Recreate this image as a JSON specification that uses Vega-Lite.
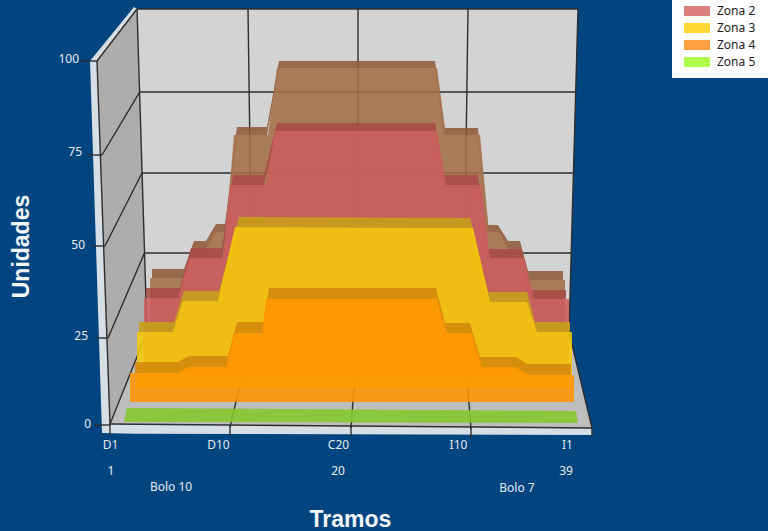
{"$schema":"https://vega.github.io/schema/vega-lite/v6.json","width":768,"height":531,"autosize":"none","padding":0,"background":"#00457F","config":{"view":{"stroke":null},"font":"Noto Sans"},
"datasets":{
"walls":[
{"capa":"leyenda","tramo":45.96,"unidades":116.76,"base":95.33},{"capa":"leyenda","tramo":53.64,"unidades":116.76,"base":95.33},
{"capa":"borde","tramo":-0.6,"unidades":100,"base":100},{"capa":"borde","tramo":0.36,"unidades":104.04,"base":-2.2},{"capa":"borde","tramo":2.92,"unidades":114.84,"base":-2.39},{"capa":"borde","tramo":3.16,"unidades":114.29,"base":-2.39},{"capa":"borde","tramo":39.56,"unidades":-0.82,"base":-2.75},
{"capa":"fondo","tramo":3.16,"unidades":114.29,"base":114.29},{"capa":"fondo","tramo":3.96,"unidades":114.29,"base":25.55},{"capa":"fondo","tramo":37.72,"unidades":114.29,"base":25.55},{"capa":"fondo","tramo":38.44,"unidades":114.29,"base":114.29},
{"capa":"lateral","tramo":-0.04,"unidades":100,"base":100},{"capa":"lateral","tramo":1,"unidades":104.64,"base":0.27},{"capa":"lateral","tramo":3.16,"unidades":114.29,"base":18.71},{"capa":"lateral","tramo":3.96,"unidades":25.55,"base":25.55},
{"capa":"suelo","tramo":1,"unidades":0.27,"base":0.27},{"capa":"suelo","tramo":3.96,"unidades":25.55,"base":0.19},{"capa":"suelo","tramo":37.72,"unidades":25.55,"base":-0.77},{"capa":"suelo","tramo":39.56,"unidades":-0.82,"base":-0.82}],
"lines":[
{"tramo":3.16,"unidades":114.29,"tramo2":38.44,"unidades2":114.29},
{"tramo":3.37,"unidades":91.48,"tramo2":38.28,"unidades2":91.48},
{"tramo":3.56,"unidades":69.23,"tramo2":38.12,"unidades2":69.23},
{"tramo":3.76,"unidades":47.25,"tramo2":37.92,"unidades2":47.25},
{"tramo":3.16,"unidades":114.29,"tramo2":3.96,"unidades2":25.55},
{"tramo":12.04,"unidades":114.29,"tramo2":12.4,"unidades2":25.55},
{"tramo":20.84,"unidades":114.29,"tramo2":20.84,"unidades2":25.55},
{"tramo":29.64,"unidades":114.29,"tramo2":29.28,"unidades2":25.55},
{"tramo":38.44,"unidades":114.29,"tramo2":37.72,"unidades2":25.55},
{"tramo":3.96,"unidades":25.55,"tramo2":1,"unidades2":0.27},
{"tramo":12.4,"unidades":25.55,"tramo2":10.6,"unidades2":-0.55},
{"tramo":20.84,"unidades":25.55,"tramo2":20.28,"unidades2":-0.82},
{"tramo":29.28,"unidades":25.55,"tramo2":29.88,"unidades2":-1.1},
{"tramo":37.72,"unidades":25.55,"tramo2":39.56,"unidades2":-0.82},
{"tramo":-0.04,"unidades":100,"tramo2":1,"unidades2":0.27},
{"tramo":3.16,"unidades":114.29,"tramo2":-0.04,"unidades2":100},
{"tramo":3.37,"unidades":91.48,"tramo2":0.36,"unidades2":74.18},
{"tramo":3.56,"unidades":69.23,"tramo2":0.6,"unidades2":49.18},
{"tramo":3.76,"unidades":47.25,"tramo2":0.84,"unidades2":23.9},
{"tramo":1,"unidades":0.27,"tramo2":39.56,"unidades2":-0.82},
{"tramo":-1.4,"unidades":100,"tramo2":-0.04,"unidades2":100},
{"tramo":-0.84,"unidades":74.18,"tramo2":0.36,"unidades2":74.18},
{"tramo":-0.52,"unidades":49.18,"tramo2":0.6,"unidades2":49.18},
{"tramo":-0.2,"unidades":23.9,"tramo2":0.84,"unidades2":23.9},
{"tramo":-0.2,"unidades":0,"tramo2":1,"unidades2":0},
{"tramo":1,"unidades":0.27,"tramo2":1,"unidades2":-3.02},
{"tramo":10.6,"unidades":0,"tramo2":10.6,"unidades2":-3.02},
{"tramo":20.28,"unidades":-0.27,"tramo2":20.28,"unidades2":-3.02},
{"tramo":29.88,"unidades":-0.55,"tramo2":29.88,"unidades2":-3.57},
{"tramo":39.56,"unidades":-0.82,"tramo2":39.56,"unidades2":-3.3}],
"zones":[
{"capa":"z1b","tramo":4.36,"unidades":42.86,"base":40.38},{"capa":"z1b","tramo":6.92,"unidades":42.86,"base":40.38},{"capa":"z1b","tramo":7.72,"unidades":50.55,"base":48.08},{"capa":"z1b","tramo":8.68,"unidades":50.55,"base":48.08},{"capa":"z1b","tramo":9.48,"unidades":55.22,"base":53.02},{"capa":"z1b","tramo":10.2,"unidades":55.22,"base":53.02},{"capa":"z1b","tramo":11.16,"unidades":81.87,"base":79.67},{"capa":"z1b","tramo":13.56,"unidades":81.87,"base":79.67},{"capa":"z1b","tramo":14.52,"unidades":100,"base":98.08},{"capa":"z1b","tramo":27,"unidades":100,"base":98.08},{"capa":"z1b","tramo":27.72,"unidades":81.59,"base":79.67},{"capa":"z1b","tramo":30.44,"unidades":81.59,"base":79.67},{"capa":"z1b","tramo":31.16,"unidades":54.95,"base":53.02},{"capa":"z1b","tramo":32.04,"unidades":54.95,"base":53.02},{"capa":"z1b","tramo":32.84,"unidades":50.55,"base":48.08},{"capa":"z1b","tramo":33.8,"unidades":50.55,"base":48.08},{"capa":"z1b","tramo":34.44,"unidades":42.31,"base":39.84},{"capa":"z1b","tramo":37.24,"unidades":42.31,"base":39.84},
{"capa":"z1f","tramo":4.2,"unidades":40.38,"base":14.56},{"capa":"z1f","tramo":6.84,"unidades":40.38,"base":14.56},{"capa":"z1f","tramo":7.64,"unidades":48.08,"base":14.56},{"capa":"z1f","tramo":8.6,"unidades":48.08,"base":14.56},{"capa":"z1f","tramo":9.24,"unidades":53.02,"base":14.56},{"capa":"z1f","tramo":10.28,"unidades":53.02,"base":14.56},{"capa":"z1f","tramo":10.92,"unidades":79.67,"base":14.56},{"capa":"z1f","tramo":13.64,"unidades":79.67,"base":14.56},{"capa":"z1f","tramo":14.36,"unidades":98.08,"base":14.56},{"capa":"z1f","tramo":27.16,"unidades":98.08,"base":14.56},{"capa":"z1f","tramo":27.88,"unidades":79.67,"base":14.56},{"capa":"z1f","tramo":30.6,"unidades":79.67,"base":14.56},{"capa":"z1f","tramo":31.32,"unidades":53.02,"base":14.56},{"capa":"z1f","tramo":32.2,"unidades":53.02,"base":14.56},{"capa":"z1f","tramo":33,"unidades":48.08,"base":14.56},{"capa":"z1f","tramo":33.96,"unidades":48.08,"base":14.56},{"capa":"z1f","tramo":34.6,"unidades":39.84,"base":14.56},{"capa":"z1f","tramo":37.4,"unidades":39.84,"base":14.56},
{"capa":"z2b","tramo":3.88,"unidades":37.64,"base":34.89},{"capa":"z2b","tramo":6.6,"unidades":37.64,"base":34.89},{"capa":"z2b","tramo":7.48,"unidades":48.63,"base":45.88},{"capa":"z2b","tramo":9.96,"unidades":48.63,"base":45.88},{"capa":"z2b","tramo":10.84,"unidades":68.68,"base":65.93},{"capa":"z2b","tramo":13.32,"unidades":68.68,"base":65.93},{"capa":"z2b","tramo":14.36,"unidades":82.97,"base":80.77},{"capa":"z2b","tramo":27,"unidades":82.97,"base":80.77},{"capa":"z2b","tramo":27.72,"unidades":68.68,"base":65.93},{"capa":"z2b","tramo":30.44,"unidades":68.68,"base":65.93},{"capa":"z2b","tramo":31.24,"unidades":48.35,"base":45.88},{"capa":"z2b","tramo":33.88,"unidades":48.35,"base":45.88},{"capa":"z2b","tramo":34.68,"unidades":37.09,"base":34.62},{"capa":"z2b","tramo":37.48,"unidades":37.09,"base":34.62},
{"capa":"z2f","tramo":3.72,"unidades":34.89,"base":12.36},{"capa":"z2f","tramo":6.44,"unidades":34.89,"base":12.36},{"capa":"z2f","tramo":7.32,"unidades":45.88,"base":12.36},{"capa":"z2f","tramo":10.04,"unidades":45.88,"base":12.36},{"capa":"z2f","tramo":10.6,"unidades":65.93,"base":12.36},{"capa":"z2f","tramo":13.48,"unidades":65.93,"base":12.36},{"capa":"z2f","tramo":14.2,"unidades":80.77,"base":12.36},{"capa":"z2f","tramo":27.16,"unidades":80.77,"base":12.36},{"capa":"z2f","tramo":27.88,"unidades":65.93,"base":12.36},{"capa":"z2f","tramo":30.68,"unidades":65.93,"base":12.36},{"capa":"z2f","tramo":31.4,"unidades":45.88,"base":12.36},{"capa":"z2f","tramo":34.12,"unidades":45.88,"base":12.36},{"capa":"z2f","tramo":34.92,"unidades":34.62,"base":12.36},{"capa":"z2f","tramo":37.72,"unidades":34.62,"base":12.36},
{"capa":"z3b","tramo":3.32,"unidades":28.3,"base":25.55},{"capa":"z3b","tramo":6.12,"unidades":28.3,"base":25.55},{"capa":"z3b","tramo":6.92,"unidades":36.81,"base":34.07},{"capa":"z3b","tramo":9.72,"unidades":36.81,"base":34.07},{"capa":"z3b","tramo":11.32,"unidades":57.14,"base":54.4},{"capa":"z3b","tramo":29.8,"unidades":56.87,"base":54.12},{"capa":"z3b","tramo":31.24,"unidades":36.54,"base":33.79},{"capa":"z3b","tramo":34.36,"unidades":36.54,"base":33.79},{"capa":"z3b","tramo":35,"unidades":28.3,"base":25.55},{"capa":"z3b","tramo":37.8,"unidades":28.3,"base":25.55},
{"capa":"z3f","tramo":3.16,"unidades":25.55,"base":10.16},{"capa":"z3f","tramo":6.04,"unidades":25.55,"base":10.16},{"capa":"z3f","tramo":6.84,"unidades":34.07,"base":10.16},{"capa":"z3f","tramo":9.64,"unidades":34.07,"base":10.16},{"capa":"z3f","tramo":11,"unidades":54.4,"base":10.16},{"capa":"z3f","tramo":30.04,"unidades":54.12,"base":10.16},{"capa":"z3f","tramo":31.4,"unidades":33.79,"base":10.16},{"capa":"z3f","tramo":34.36,"unidades":33.79,"base":10.16},{"capa":"z3f","tramo":35.16,"unidades":25.55,"base":10.16},{"capa":"z3f","tramo":37.96,"unidades":25.55,"base":10.16},
{"capa":"z4b","tramo":3,"unidades":17.31,"base":14.29},{"capa":"z4b","tramo":6.44,"unidades":17.31,"base":14.29},{"capa":"z4b","tramo":7.32,"unidades":18.96,"base":15.93},{"capa":"z4b","tramo":10.44,"unidades":18.96,"base":15.93},{"capa":"z4b","tramo":11.16,"unidades":28.3,"base":25.27},{"capa":"z4b","tramo":13.32,"unidades":28.3,"base":25.27},{"capa":"z4b","tramo":13.72,"unidades":37.64,"base":34.62},{"capa":"z4b","tramo":27.08,"unidades":37.64,"base":34.62},{"capa":"z4b","tramo":27.8,"unidades":28.02,"base":25},{"capa":"z4b","tramo":29.8,"unidades":28.02,"base":25},{"capa":"z4b","tramo":30.6,"unidades":18.68,"base":15.66},{"capa":"z4b","tramo":33.48,"unidades":18.68,"base":15.66},{"capa":"z4b","tramo":34.36,"unidades":16.76,"base":13.74},{"capa":"z4b","tramo":37.88,"unidades":16.76,"base":13.74},
{"capa":"z4f","tramo":2.6,"unidades":14.29,"base":6.32},{"capa":"z4f","tramo":6.36,"unidades":14.29,"base":6.32},{"capa":"z4f","tramo":7.24,"unidades":15.93,"base":6.32},{"capa":"z4f","tramo":10.28,"unidades":15.93,"base":6.32},{"capa":"z4f","tramo":10.92,"unidades":25.27,"base":6.32},{"capa":"z4f","tramo":13.16,"unidades":25.27,"base":6.32},{"capa":"z4f","tramo":13.48,"unidades":34.62,"base":6.32},{"capa":"z4f","tramo":27.16,"unidades":34.62,"base":6.32},{"capa":"z4f","tramo":27.96,"unidades":25.27,"base":6.32},{"capa":"z4f","tramo":29.96,"unidades":25.27,"base":6.32},{"capa":"z4f","tramo":30.76,"unidades":15.93,"base":6.32},{"capa":"z4f","tramo":33.48,"unidades":15.93,"base":6.32},{"capa":"z4f","tramo":34.44,"unidades":13.74,"base":6.32},{"capa":"z4f","tramo":38.12,"unidades":13.74,"base":6.32},
{"capa":"z5f","tramo":2.12,"unidades":0.82,"base":0.82},{"capa":"z5f","tramo":2.36,"unidades":4.67,"base":0.85},{"capa":"z5f","tramo":38.28,"unidades":3.85,"base":0.55},{"capa":"z5f","tramo":38.44,"unidades":0.55,"base":0.55}],
"notes":[
{"tramo":1.08,"unidades":-12.64,"texto":"1"},{"tramo":19.24,"unidades":-12.64,"texto":"20"},{"tramo":37.48,"unidades":-12.64,"texto":"39"},{"tramo":5.88,"unidades":-17.03,"texto":"Bolo 10"},{"tramo":33.56,"unidades":-17.31,"texto":"Bolo 7"}],
"yLabels":[{"tramo":-0.52,"unidades":0.27,"texto":"0"},{"tramo":-0.76,"unidades":24.45,"texto":"25"},{"tramo":-1,"unidades":49.45,"texto":"50"},{"tramo":-1.24,"unidades":75,"texto":"75"},{"tramo":-1.48,"unidades":100.55,"texto":"100"}],
"legendRows":[{"zona":"Zona 2","tramo":20,"unidades":80},{"zona":"Zona 3","tramo":20,"unidades":55},{"zona":"Zona 4","tramo":20,"unidades":35},{"zona":"Zona 5","tramo":20,"unidades":4}]
},
"encoding":{
"x":{"field":"tramo","type":"quantitative","scale":{"domain":[-7.8,53.64],"range":[0,768],"nice":false,"zero":false},"axis":{"orient":"bottom","offset":-92,"values":[1,9.64,19.24,28.84,37.56],"labelExpr":"datum.value<2?'D1':datum.value<10?'D10':datum.value<20?'C20':datum.value<30?'I10':'I1'","ticks":false,"domain":false,"grid":false,"labelPadding":0,"labelBaseline":"top","labelColor":"#E6ECF2","labelFont":"Noto Sans","labelFontSize":12,"labelOverlap":false,"labelFlush":false,"title":"Tramos","titleColor":"#F4F7FA","titleFont":"Liberation Sans","titleFontSize":23,"titleFontWeight":"bold","titleX":350,"titleY":80,"titleBaseline":"middle","titleAlign":"center","titleAnchor":null}},
"y":{"field":"unidades","type":"quantitative","stack":null,"scale":{"domain":[-29.12,116.76],"range":[531,0],"nice":false,"zero":false},"axis":{"orient":"left","offset":-91,"values":[0,25,50,75,100],"ticks":false,"domain":false,"grid":false,"labels":false,"title":"Unidades","titleColor":"#F4F7FA","titleFont":"Liberation Sans","titleFontSize":23,"titleFontWeight":"bold","titleAngle":-90,"titleX":-70,"titleY":246,"titleBaseline":"middle","titleAlign":"center"}}
},
"layer":[
{"data":{"name":"walls"},"mark":{"type":"area"},"encoding":{"y2":{"field":"base"},"fill":{"field":"capa","type":"nominal","legend":null,"scale":{"domain":["leyenda","borde","fondo","lateral","suelo","z1b","z1f","z2b","z2f","z3b","z3f","z4b","z4f","z5f"],"range":["#FFFFFF","#D6DEE6","#D3D3D3","#ADADAD","#BEBEBE","#8E5A3A","#A46E48","#A84A48","#CB5D5E","#C8A018","#F5C90A","#D5880C","#FF9500","#85C72A"]}}}},
{"data":{"name":"lines"},"mark":{"type":"rule","color":"#2E2E2E","strokeWidth":1.4},"encoding":{"x2":{"field":"tramo2"},"y2":{"field":"unidades2"}}},
{"data":{"name":"zones"},"mark":{"type":"area","opacity":0.88},"encoding":{"y2":{"field":"base"},"fill":{"field":"capa","type":"nominal","legend":null}}},
{"data":{"name":"notes"},"mark":{"type":"text","color":"#E6ECF2","fontSize":12,"font":"Noto Sans","align":"center","baseline":"middle"},"encoding":{"text":{"field":"texto"}}},
{"data":{"name":"yLabels"},"mark":{"type":"text","color":"#E6ECF2","fontSize":12,"font":"Noto Sans","align":"right","baseline":"middle"},"encoding":{"text":{"field":"texto"}}},
{"data":{"name":"legendRows"},"mark":{"type":"point","filled":true,"size":0},"encoding":{"color":{"field":"zona","type":"nominal","scale":{"domain":["Zona 2","Zona 3","Zona 4","Zona 5"],"range":["#DC7F7F","#FFD633","#FF9F3F","#B0FF4F"]},"legend":{"title":null,"orient":"none","legendX":681.5,"legendY":-4.5,"padding":7,"symbolType":"M-1.53,-0.59H1.53V0.59H-1.53Z","symbolSize":289,"symbolOpacity":1,"symbolStrokeWidth":0,"labelColor":"#222222","labelFont":"Noto Sans","labelFontSize":12,"labelOffset":11.5,"rowPadding":2}}}}
]}
